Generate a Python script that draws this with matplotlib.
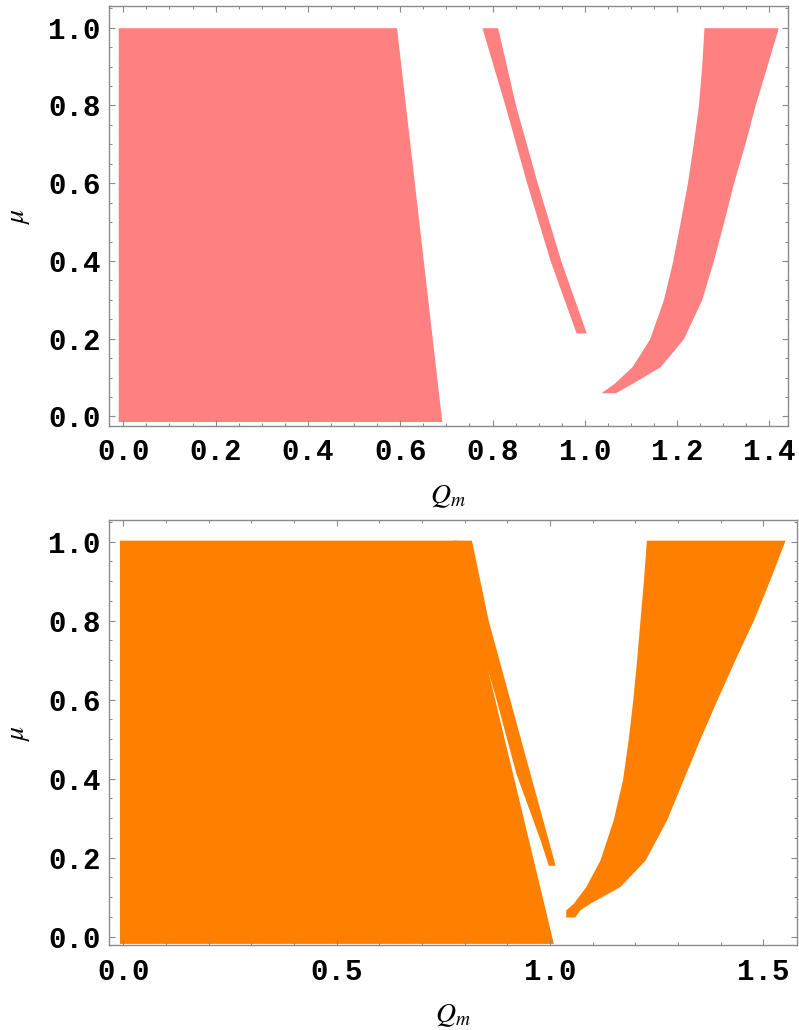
import matplotlib
matplotlib.use("Agg")
import matplotlib.pyplot as plt
from matplotlib.ticker import MultipleLocator, FixedLocator, FixedFormatter

plt.rcParams['mathtext.fontset'] = 'stix'

# ---------------- data (region boundaries) -------------
# top panel (pink)
top_A_mu = [-0.013, 1.0]
top_A_left = [-0.011, -0.011]
top_A_right = [0.690, 0.592]

top_B_mu = [0.215, 0.4, 0.6, 0.8, 1.0]
top_B_left = [0.981, 0.925, 0.874, 0.827, 0.777]
top_B_right = [1.003, 0.948, 0.897, 0.850, 0.811]

top_C_mu = [0.061, 0.085, 0.128, 0.199, 0.300, 0.399, 0.497, 0.600, 0.703, 0.801, 0.900, 1.0]
top_C_left = [1.035, 1.063, 1.102, 1.140, 1.170, 1.190, 1.206, 1.222, 1.235, 1.246, 1.253, 1.258]
top_C_right = [1.066, 1.102, 1.163, 1.213, 1.253, 1.278, 1.300, 1.322, 1.347, 1.369, 1.394, 1.419]

# bottom panel (orange)
bot_A_mu = [-0.017, 1.004]
bot_A_left = [-0.009, -0.009]
bot_A_right = [1.008, 0.781]

bot_B_mu = [0.181, 0.245, 0.414, 0.616, 0.802, 1.004]
bot_B_left = [0.996, 0.977, 0.920, 0.870, 0.818, 0.772]
bot_B_right = [1.012, 0.996, 0.953, 0.902, 0.855, 0.816]

bot_C_mu = [0.050, 0.068, 0.085, 0.127, 0.194, 0.295, 0.397, 0.497, 0.599, 0.700, 0.802, 0.900, 1.004]
bot_C_left = [1.037, 1.037, 1.055, 1.084, 1.117, 1.148, 1.170, 1.183, 1.194, 1.203, 1.211, 1.219, 1.226]
bot_C_right = [1.058, 1.070, 1.094, 1.164, 1.223, 1.273, 1.312, 1.350, 1.391, 1.433, 1.477, 1.514, 1.551]

top_xticks = [0.0, 0.2, 0.4, 0.6, 0.8, 1.0, 1.2, 1.4]
top_xlabels = ["0.0", "0.2", "0.4", "0.6", "0.8", "1.0", "1.2", "1.4"]
bot_xticks = [0.0, 0.5, 1.0, 1.5]
bot_xlabels = ["0.0", "0.5", "1.0", "1.5"]
yticks = [0.0, 0.2, 0.4, 0.6, 0.8, 1.0]
ylabels = ["0.0", "0.2", "0.4", "0.6", "0.8", "1.0"]

PINK = "#FF8080"
ORANGE = "#FF8000"
FRAME = "#8a8a8a"

W, H = 799, 1030
fig = plt.figure(figsize=(W / 100, H / 100), dpi=100)


def px_axes(l, t, r, b):
    return fig.add_axes([l / W, 1 - b / H, (r - l) / W, (b - t) / H])


ax1 = px_axes(109, 6, 787.5, 425.7)
ax2 = px_axes(109, 520, 797, 945)

for mu, lft, rgt in [(top_A_mu, top_A_left, top_A_right),
                     (top_B_mu, top_B_left, top_B_right),
                     (top_C_mu, top_C_left, top_C_right)]:
    ax1.fill_betweenx(mu, lft, rgt, color=PINK, lw=0)

for mu, lft, rgt in [(bot_A_mu, bot_A_left, bot_A_right),
                     (bot_B_mu, bot_B_left, bot_B_right),
                     (bot_C_mu, bot_C_left, bot_C_right)]:
    ax2.fill_betweenx(mu, lft, rgt, color=ORANGE, lw=0)

ax1.set_xlim(-0.031, 1.439)
ax1.set_ylim(-0.0237, 1.0559)
ax2.set_xlim(-0.0335, 1.579)
ax2.set_ylim(-0.021, 1.055)

tickfont = dict(family="Liberation Mono", weight="bold", size=21)

for ax, xt, xl, xminor in [(ax1, top_xticks, top_xlabels, 0.05),
                           (ax2, bot_xticks, bot_xlabels, 0.1)]:
    ax.xaxis.set_major_locator(FixedLocator(xt))
    ax.xaxis.set_major_formatter(FixedFormatter(xl))
    ax.xaxis.set_minor_locator(MultipleLocator(xminor))
    ax.yaxis.set_major_locator(FixedLocator(yticks))
    ax.yaxis.set_major_formatter(FixedFormatter(ylabels))
    ax.yaxis.set_minor_locator(MultipleLocator(0.05))
    ax.tick_params(which="both", direction="in", top=True, right=True,
                   color=FRAME, width=0.8)
    ax.tick_params(which="major", length=4.0)
    ax.tick_params(which="minor", length=2.2)
    ax.tick_params(axis="x", which="major", pad=9)
    ax.tick_params(axis="y", which="major", pad=6)
    for lab in ax.get_xticklabels() + ax.get_yticklabels():
        lab.set_fontfamily(tickfont["family"])
        lab.set_fontweight(tickfont["weight"])
        lab.set_fontsize(tickfont["size"])
    for sp in ax.spines.values():
        sp.set_color(FRAME)
        sp.set_linewidth(1.0)
    ax.set_xlabel(r"$Q_m$", fontsize=20)
    ax.set_ylabel(r"$\mu$", fontsize=20)

ax1.xaxis.set_label_coords(0.5, -(482 - 425.7) / 419.7)
ax2.xaxis.set_label_coords(0.5, -(1001 - 945) / 425)
ax1.yaxis.set_label_coords((32 - 109) / 678.5, 0.5)
ax2.yaxis.set_label_coords((32 - 109) / 688, 0.5)

fig.savefig("out.png", dpi=100)
